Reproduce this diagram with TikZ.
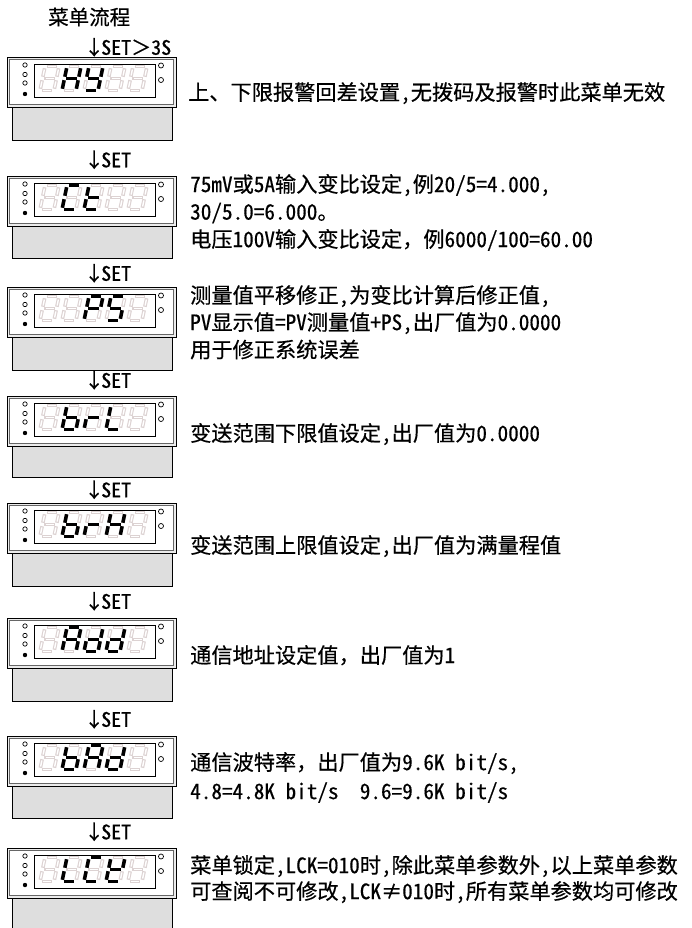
\documentclass[tikz,border=0pt]{standalone}
\usepackage{fontspec}
\setmainfont{Noto Sans CJK SC}[CharacterWidth=Half, FakeBold=0.5]
\newfontfamily\fwf{Noto Sans CJK SC}[FakeBold=0.5]
\definecolor{segoffc}{RGB}{220,210,210}
\definecolor{baseg}{RGB}{222,222,222}
\definecolor{bandg}{RGB}{235,235,235}
\newcommand{\hs}{\hspace{0.5em}}
\newcommand{\fw}[1]{{\fwf #1}}
\newcommand{\segdef}[2]{\expandafter\def\csname sgp#1\endcsname{#2}}
\segdef{a}{(5,-24) -- (19,-24)}
\segdef{b}{(19,-24) -- (16.5,-12)}
\segdef{c}{(16.5,-12) -- (14,0)}
\segdef{d}{(0,0) -- (14,0)}
\segdef{e}{(2.5,-12) -- (0,0)}
\segdef{f}{(5,-24) -- (2.5,-12)}
\segdef{g}{(2.5,-12) -- (16.5,-12)}
\newcommand{\drawsegs}[4]{%
  \foreach \s in {#3}{%
    \expandafter\let\expandafter\segp\csname sgp\s\endcsname
    \draw[#4,shift={({#1},{#2})}] \segp;}}
\newcommand{\dispunit}[2]{%
  \draw[basebox] (12,{#1+50}) rectangle (172,{#1+#2});
  \draw[frameout] (7,#1) rectangle (176,{#1+50});
  \draw[framein] (9.5,{#1+2.5}) rectangle (173.5,{#1+47.5});
  \draw[window] (34,{#1+7}) rectangle (155,{#1+40});
  \foreach \ly in {8,17.5,26} {\draw[ledoff] (25,{#1+\ly}) circle (2.2);}
  \fill[ledon] (25,{#1+37}) circle (2.2);
  \foreach \ly in {8.5,23} {\draw[ledoff] (161,{#1+\ly}) circle (2.5);}
  \foreach \k in {0,...,4}{%
    \drawsegs{40+22*\k}{#1+33.5}{a,b,c,d,e,f,g}{segoff}%
    \drawsegs{40+22*\k}{#1+33.5}{a,b,c,d,e,f,g}{segoffin}}%
}
\newcommand{\letter}[3]{\drawsegs{40+22*(#2-1)}{#1+33.5}{#3}{segon}}
\begin{document}
\begin{tikzpicture}[x=1pt,y=-1pt,
  txt/.style={anchor=base west, inner sep=0pt, font=\fontsize{21.2}{24}\selectfont},
  setlbl/.style={anchor=base west, inner sep=0pt, font=\fontsize{20}{22}\selectfont},
  frameout/.style={draw=black, line width=0.9pt, fill=bandg},
  framein/.style={draw=black!60, line width=0.5pt, fill=white},
  window/.style={draw=black, line width=0.9pt, fill=white},
  basebox/.style={draw=black, line width=0.9pt, fill=baseg},
  ledoff/.style={draw=black, line width=0.7pt, fill=white},
  ledon/.style={black},
  segoff/.style={draw=segoffc, line width=3.6pt, shorten <=1.8pt, shorten >=1.8pt},
  segoffin/.style={draw=white, line width=1.4pt, shorten <=3pt, shorten >=3pt},
  segon/.style={draw=black, line width=3.5pt, shorten <=1.8pt, shorten >=1.8pt}]
\useasboundingbox (0,0) rectangle (692,928);

\node[anchor=base west, inner sep=0pt, font=\fontsize{20.5}{24}\selectfont] (title) at (48,24.8) {菜单流程};
\node[setlbl] (s1) at (84,54.8) {↓\kern-3pt SET\fw{＞}3S};

\dispunit{57}{83}
\letter{57}{2}{b,c,e,f,g}
\letter{57}{3}{b,c,d,f,g}
\node[txt] (t1) at (188,100.1) {上\fw{、}下限报警回差设置,无拨码及报警时此菜单无效};

\node[setlbl] (s2) at (84,167.3) {↓\kern-3pt SET};
\dispunit{176}{82}
\letter{176}{2}{a,d,e,f}
\letter{176}{3}{d,e,f,g}
\node[txt] (t2a) at (190,192.1) {75mV或5A输入变比设定,例20/5=4.000,};
\node[txt] (t2b) at (190,219.6) {30/5.0=6.000\fw{。}};
\node[txt] (t2c) at (190,247.1) {电压100V输入变比设定\fw{，}例6000/100=60.00};

\node[setlbl] (s3) at (84,280.8) {↓\kern-3pt SET};
\dispunit{287}{83}
\letter{287}{3}{a,b,e,f,g}
\letter{287}{4}{a,c,d,f,g}
\node[txt] (t3a) at (190,303.1) {测量值平移修正,为变比计算后修正值,};
\node[txt] (t3b) at (190,330.1) {PV显示值=PV测量值+PS,出厂值为0.0000};
\node[txt] (t3c) at (190,357.6) {用于修正系统误差};

\node[setlbl] (s4) at (84,387.8) {↓\kern-3pt SET};
\dispunit{396}{81}
\letter{396}{2}{c,d,e,f,g}
\letter{396}{3}{e,g}
\letter{396}{4}{d,e,f}
\node[txt] (t4) at (190,441.1) {变送范围下限值设定,出厂值为0.0000};

\node[setlbl] (s5) at (84,497.3) {↓\kern-3pt SET};
\dispunit{503}{83}
\letter{503}{2}{c,d,e,f,g}
\letter{503}{3}{e,g}
\letter{503}{4}{b,c,e,f,g}
\node[txt] (t5) at (190,553.1) {变送范围上限值设定,出厂值为满量程值};

\node[setlbl] (s6) at (84,608.8) {↓\kern-3pt SET};
\dispunit{618}{83}
\letter{618}{2}{a,b,c,e,f,g}
\letter{618}{3}{b,c,d,e,g}
\letter{618}{4}{b,c,d,e,g}
\node[txt] (t6) at (190,663.1) {通信地址设定值\fw{，}出厂值为1};

\node[setlbl] (s7) at (84,726.8) {↓\kern-3pt SET};
\dispunit{736}{82}
\letter{736}{2}{c,d,e,f,g}
\letter{736}{3}{a,b,c,e,f,g}
\letter{736}{4}{b,c,d,e,g}
\node[txt] (t7a) at (190,770.1) {通信波特率\fw{，}出厂值为9.6K\hs bit/s,};
\node[txt] (t7b) at (190,799.1) {4.8=4.8K\hs bit/s\hs\hs 9.6=9.6K\hs bit/s};

\node[setlbl] (s8) at (84,839.3) {↓\kern-3pt SET};
\dispunit{848}{84}
\letter{848}{2}{d,e,f}
\letter{848}{3}{a,d,e,f}
\letter{848}{4}{b,d,e,f,g}
\node[txt] (t8a) at (190,873.1) {菜单锁定,LCK=010时,除此菜单参数外,以上菜单参数};
\node[txt] (t8b) at (190,899.1) {可查阅不可修改,LCK\fw{≠}010时,所有菜单参数均可修改};
\end{tikzpicture}
\end{document}
